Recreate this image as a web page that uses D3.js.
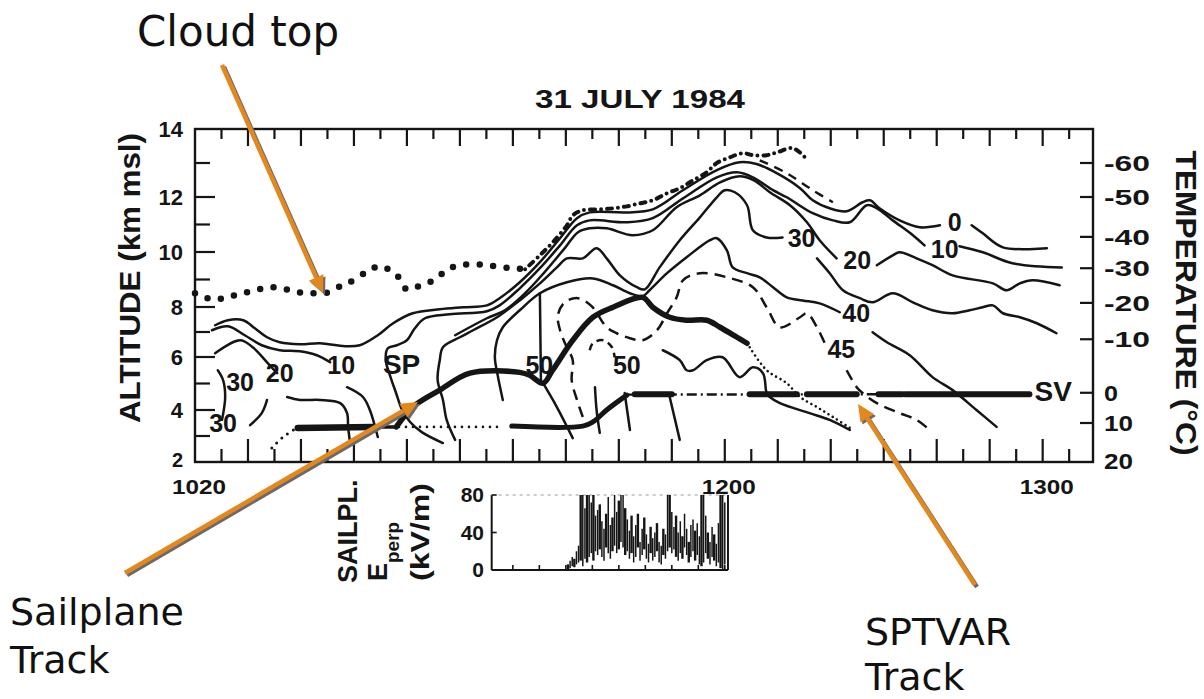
<!DOCTYPE html>
<html lang="en">
<head>
<meta charset="utf-8">
<title>31 July 1984 - reflectivity cross-section</title>
<script src="https://d3js.org/d3.v7.min.js"></script>
<style>
  body { margin: 0; background: #fff; }
  svg { display: block; }
  .fig { font-family: "Liberation Sans", Arial, sans-serif; font-weight: bold; fill: #151515; }
  .note { font-family: "DejaVu Sans", sans-serif; fill: #111; }
</style>
</head>
<body>
<svg id="chart" width="1204" height="699"></svg>
<script>
// ---- data: time in minutes after 10:00, altitude in km msl ----
var xTickMinutes = [20, 120, 180];
var xTickLabels = ["1020", "1200", "1300"];
var altTicks = [2, 4, 6, 8, 10, 12, 14];
var tempLabels = [-60, -50, -40, -30, -20, -10, 0, 10, 20];
var tempAltKm = [13.0, 12.0, 10.55, 9.41, 8.15, 6.71, 4.65, 3.5, 2.04];

var cloudTopLow = [[20,8.50],[22.3,8.32],[24.2,8.28],[26.6,8.39],[29.1,8.50],[31.9,8.64],[34.5,8.72],[37.2,8.64],[39.8,8.53],[42.3,8.50],[44.5,8.50],[47,8.72],[49.2,8.90],[52.6,9.30],[54.9,9.48],[58.1,9.15],[60,8.64],[62.6,8.79],[65.3,9.0],[67.7,9.37],[70,9.52],[72.8,9.55],[75.3,9.52],[77.9,9.44],[80.4,9.41],[82.3,9.37]];
var cloudTopAnvil = [[82.3,9.37],[85.1,9.88],[87.9,10.43],[90.2,10.97],[91.3,11.33],[93.2,11.52],[96.4,11.55],[98.9,11.59],[101.5,11.66],[104,11.77],[106.4,11.88],[109.1,12.11],[111.5,12.26],[114,12.49],[116.6,12.73],[118.5,13.0],[121,13.17],[123.4,13.29],[125.3,13.23],[127.9,13.23],[130,13.32],[132.8,13.44],[135.3,13.14]];
var anvilEdge = [[126.6,13.08],[131.7,12.70],[136.6,12.20],[140.4,11.81]];

var dbz0 = [[23.8,7.27],[26.2,7.47],[29.1,7.47],[31.3,7.15],[33.6,6.79],[36.0,6.59],[39.8,6.51],[43.6,6.55],[48.3,6.43],[51.1,6.47],[54.5,6.87],[57.4,7.35],[61.1,7.75],[66.2,7.91],[70.6,7.99],[75.1,8.06],[77.5,8.32],[81.3,8.90],[85.1,9.63],[88.9,10.50],[92.1,11.23],[94.5,11.44],[101.5,11.44],[106.4,11.55],[112.1,12.20],[118.5,12.79],[122.8,13.02],[126.0,12.97],[129.8,12.70],[134.2,12.26],[136.6,11.88],[139.8,11.59],[143.0,11.48],[146.0,11.81],[147.4,11.88],[149.2,11.59],[153.0,11.15],[156.8,10.90],[160.6,10.97],null,[166.6,10.97],[168.7,10.68],[172.5,10.17],[180.8,10.14]];
var dbz10a = [[23.2,7.07],[26.2,7.23],[29.4,6.87],[32.6,6.47],[36,6.27],[39.8,6.23],[43,6.07],[45.5,5.80],null,[48.7,4.86],[51.7,4.49],[53,4.0],[54,3.35],[54.5,2.96]];
var dbz10b = [[66.8,2.73],[62.8,3.15],[60.6,3.54],[59.1,4.0],[57.9,4.67],[56.8,5.31],[56,5.88],[56.4,6.35],[58.1,6.47],[60,6.67],[61.5,7.15],[63.4,7.55],[68.1,7.71],[75.1,7.83],[77.5,8.06],[81.3,8.68],[85.1,9.41],[88.9,10.24],[92.1,10.97],[94.5,11.15],[101.5,11.08],[106.4,11.23],[112.1,11.95],[118.5,12.58],[122.3,12.73],[125.3,12.58],[129.1,12.20],[131.7,11.99],[136.6,11.41],[140.4,11.15],[143.6,11.08],[146.8,11.70],[148.7,11.59],[151.7,11.15],[155.5,10.61],[157.7,10.24],null,[164.3,10.21],[168.7,9.99],[174.3,9.59],[183.6,9.44]];
var dbz20a = [[23.8,6.15],[28.5,6.67],[30.9,6.39],[33.6,5.80],[35.5,5.39],null,[37.4,4.49],[39.8,4.38],[43.6,4.38],[47.4,4.26],[48.7,3.88],[48.9,3.35],[49.2,2.85]];
var dbz20b = [[69.1,6.87],[75.1,7.55],[78.5,7.87],[82.3,8.50],[86,9.27],[89.8,10.14],[92.3,10.72],[94.5,10.86],[97.7,10.86],[102.6,10.61],[106.4,10.79],[110.9,11.63],[115.3,12.05],[119.1,12.43],[122.8,12.61],[125.5,12.49],[128.5,12.14],[132.3,11.70],[135.5,11.08],[137.9,10.43],[141.1,9.77],null,[148.7,9.52],[151.7,9.88],[153,9.99],[156.2,9.77],[159.2,9.52],[163,9.15],[170.6,8.86],[173.2,8.61],[175.7,8.86],[178.1,8.97],[183.2,8.79]];
var dbz30a = [[24.3,5.50],[25.3,5.13],[25.7,4.49],[25.1,3.62]];
var dbz30b = [[33.6,4.38],[32.6,3.88],[30.4,3.42]];
var dbz30c = [[69.1,2.85],[67.5,3.62],[66.8,4.38],[65.8,5.13],[66.2,5.88],[66.8,6.39],[70,6.79],[72.5,7.07],[77,7.59],[81.3,8.24],[85.1,8.86],[88.3,9.44],[90.2,9.77],[93.2,9.77],[95.8,10.14],[97.7,9.77],[100.2,9.15],[103.4,8.72],[104.9,8.64],[107.7,9.44],[111.5,10.43],[115.3,11.26],[118.5,11.99],[120,12.20],[121.9,12.14],[124.2,11.70],[125.3,10.79],[127.9,10.53],[130.9,10.53],null,[137.4,9.77],[139.8,9.23],[142.3,8.61],[145.5,8.32],[147.9,8.17],[151.7,8.50],[155.5,8.17],[159.2,7.87],[163,7.75],[166.2,7.87],[168.7,7.99],[170.6,8.06],[172.5,7.75],[175.7,7.59],[178.9,7.35],[182.6,6.95]];
var dbz40 = [[78.1,4.38],[77.2,5.24],[76.6,5.99],[77,6.67],[78.1,7.19],[81.3,7.87],[85.1,8.50],[90.2,8.90],[95.1,9.04],[98.9,8.79],[102.1,8.50],[104.5,8.39],[105.8,8.61],[109.1,9.23],[112.8,9.81],[117.2,10.43],[118.5,10.50],[120.4,10.06],[121.5,9.44],[124.2,9.23],[126.6,9.08],[129.1,8.72],[131.7,8.35],[134.7,8.24],[137.9,8.13],[141.7,7.79],null,[147.9,6.99],[150.6,6.59],[154.9,6.07],[159.2,5.24],[163,4.75],[167.5,4.0],[171.3,3.35]];
var innerLines = [
  [[85.1,8.50],[85.3,5.0]],
  [[85.7,5.01],[88.3,4.11],[91.3,2.92]],
  [[95.5,4.86],[95.8,4.0],[96.4,3.12]],
  [[101.1,4.64],[102.1,3.23]],
  [[109.6,4.49],[111.5,2.85]],
  [[108.3,6.27],[111.5,5.88],[112.8,5.50],[114,5.50],[116.6,5.88],[119.6,5.99],[122.8,5.24],[125.3,5.61],[127.2,5.39],[127.9,4.64],[128.5,4.49],[130.4,4.26],[136,3.88],[139.8,3.62],[143.6,3.23]]
];
var dbz45 = [[93.2,3.73],[92.1,4.38],[91.1,5.13],[91.3,5.88],[90,6.47],[88.9,7.07],[88.5,7.67],[89.8,8.17],[92.3,8.32],[94.9,8.02],[97.7,7.19],[99.6,6.95],[102.1,6.75],[104.5,6.67],[107.2,7.07],[109.1,7.75],[110.9,8.35],[112.1,8.97],[115.3,9.23],[120.4,9.08],[125.3,8.72],[127.9,7.99],[130.4,7.19],[134.2,7.59],[135.5,7.75],[137.4,7.19],[139.2,6.39],null,[143,5.50],[144.9,4.86],[146,4.64],[148.7,4.26],[153,3.88],[156.2,3.62],[158.7,3.23]];
var dbz45small = [[94.5,6.27],[95.1,6.55],[97,6.67],[98.7,6.39],[99.2,5.99]];

var contourLabels = [
  {text: "0", t: 163.4, km: 10.75}, {text: "10", t: 161.5, km: 9.8},
  {text: "20", t: 145.0, km: 9.4}, {text: "30", t: 134.5, km: 10.2},
  {text: "40", t: 144.8, km: 7.4}, {text: "45", t: 142.0, km: 5.95},
  {text: "50", t: 85.0, km: 5.35}, {text: "50", t: 101.5, km: 5.35},
  {text: "10", t: 47.6, km: 5.35}, {text: "20", t: 36.0, km: 5.05},
  {text: "30", t: 28.5, km: 4.7}, {text: "30", t: 25.3, km: 3.15},
  {text: "SP", t: 59.0, km: 5.35}, {text: "SV", t: 182.0, km: 4.35}
];

// sailplane (SP) and SPTVAR (SV) tracks
var spClimbDots = [[34.5,2.54],[36.6,2.96],[38.9,3.27]];
var spTrack = [[39.4,3.31],[53.6,3.35]];
var spTrackThin = [[53.6,3.35],[58.0,3.35]];
var spTrackUp = [[58.0,3.35],[61.1,4.11],[66.2,4.75],[71.9,5.39],[81.3,5.42],[83.2,5.31],[85.7,5.01],[87.5,5.50],[91.3,6.67],[95.1,7.59],[98.9,7.99],[104.5,8.35],[106.4,7.99],[109.6,7.59],[112.8,7.47],[116.6,7.47],[119.1,7.19],[122.3,6.79],[124.2,6.55]];
var spDescentDots = [[124.7,6.39],[127.9,5.50],[131.7,5.01],[134.2,4.49],[137.4,4.11],[140.4,3.73],[143.6,3.31]];
var svLowDots = [[58.5,3.35],[78.1,3.35]];
var svLow = [[79.8,3.38],[93.2,3.38],[95.1,3.54],[97.7,4.0],[101.5,4.56]];
var svLevel = [[101.5,4.58],[177.5,4.60]];
var svThick = [[103,110],[124.7,133.6],[135.5,144.9],[149,153.5],[154,177.5]];

// sailplane E-perp (kV/m)
var eTime = [90.4,90.8,91.2,91.6,92.0,92.4,92.8,93.2,93.6,94.0,94.4,94.8,95.2,95.6,96.0,96.4,96.8,97.2,97.6,98.0,98.4,98.8,99.2,99.6,100.0,100.4,100.8,101.2,101.6,102.0,102.4,102.8,103.2,103.6,104.0,104.4,104.8,105.2,105.6,106.0,106.4,106.8,107.2,107.6,108.0,108.4,108.8,109.2,109.6,110.0,110.4,110.8,111.2,111.6,112.0,112.4,112.8,113.2,113.6,114.0,114.4,114.8,115.2,115.6,116.0,116.4,116.8,117.2,117.6,118.0,118.4,118.8,119.2,119.6,120.0];
var eHigh = [6,10,14,12,20,26,80,80,66,80,80,72,80,58,64,70,52,44,60,78,48,56,80,62,74,80,80,66,54,42,58,36,48,60,30,44,56,38,28,46,34,40,50,30,26,44,38,80,80,62,46,58,40,52,36,60,44,30,48,54,42,50,36,80,80,58,40,30,46,38,28,50,80,80,72];
var eLow = [0,2,4,3,6,8,10,4,12,8,14,18,10,20,16,22,14,10,24,18,12,20,26,18,22,30,24,16,20,12,18,8,14,24,10,16,22,12,8,18,10,14,20,8,6,16,12,20,24,18,22,14,10,18,12,24,16,8,14,20,10,16,6,4,8,18,12,6,14,10,4,8,2,0,6];
var eTicks = [0, 40, 80];

// ---- drawing ----
var svg = d3.select("#chart");
var ink = "#151515";

var x = d3.scaleLinear().domain([20, 189.5]).range([195, 1093]);
var y = d3.scaleLinear().domain([2, 4, 6, 8, 10, 12, 14]).range([462, 410, 357, 307, 252, 197, 129]);

var line = d3.line()
  .defined(function(d) { return d; })
  .x(function(d) { return x(d[0]); })
  .y(function(d) { return y(d[1]); })
  .curve(d3.curveCatmullRom.alpha(0.5));

function draw(data, w, dash, cap) {
  return svg.append("path").datum(data)
    .attr("d", line)
    .attr("fill", "none")
    .attr("stroke", ink)
    .attr("stroke-width", w)
    .attr("stroke-linecap", cap || "round")
    .attr("stroke-linejoin", "round")
    .attr("stroke-dasharray", dash || null);
}

// frame
svg.append("rect")
  .attr("x", x(20)).attr("y", y(14))
  .attr("width", x(189.5) - x(20)).attr("height", y(2) - y(14))
  .attr("fill", "none").attr("stroke", ink).attr("stroke-width", 2.4);

// time ticks top and bottom
d3.range(25, 189, 5).forEach(function(t) {
  var tall = t % 10 === 0;
  svg.append("line").attr("x1", x(t)).attr("x2", x(t))
    .attr("y1", y(2)).attr("y2", y(2) - (tall ? 23 : 13))
    .attr("stroke", ink).attr("stroke-width", 2.2);
  svg.append("line").attr("x1", x(t)).attr("x2", x(t))
    .attr("y1", y(14)).attr("y2", y(14) + (tall ? 17 : 10))
    .attr("stroke", ink).attr("stroke-width", 2.2);
});
xTickMinutes.forEach(function(t, i) {
  svg.append("text").attr("class", "fig")
    .attr("x", x(t) + 4).attr("y", 494)
    .attr("text-anchor", "middle").attr("font-size", 21)
    .attr("textLength", 54).attr("lengthAdjust", "spacingAndGlyphs")
    .text(xTickLabels[i]);
});

// altitude ticks
d3.range(3, 14, 1).forEach(function(a) {
  var major = a % 2 === 0;
  svg.append("line").attr("x1", x(20)).attr("x2", x(20) + (major ? 20 : 15))
    .attr("y1", y(a)).attr("y2", y(a))
    .attr("stroke", ink).attr("stroke-width", 2.2);
});
altTicks.forEach(function(a) {
  svg.append("text").attr("class", "fig")
    .attr("x", 183).attr("y", y(a) + (a === 2 ? 5 : 8))
    .attr("text-anchor", "end").attr("font-size", a === 2 ? 20 : 22)
    .text(a);
});

// temperature ticks (right)
tempLabels.forEach(function(c, i) {
  var yy = y(tempAltKm[i]);
  if (c !== 20) {
    svg.append("line").attr("x1", x(189.5)).attr("x2", x(189.5) - 13)
      .attr("y1", yy).attr("y2", yy)
      .attr("stroke", ink).attr("stroke-width", 2.2);
  }
  svg.append("text").attr("class", "fig")
    .attr("x", 1104).attr("y", yy + 8)
    .attr("font-size", 22)
    .attr("textLength", c < 0 ? 46 : (c === 0 ? 14 : 29)).attr("lengthAdjust", "spacingAndGlyphs")
    .text(c < 0 ? "-" + Math.abs(c) : c);
});

// axis titles
svg.append("text").attr("class", "fig")
  .attr("transform", "translate(140,278) rotate(-90)")
  .attr("text-anchor", "middle").attr("font-size", 29)
  .attr("textLength", 290).attr("lengthAdjust", "spacingAndGlyphs")
  .text("ALTITUDE (km msl)");
svg.append("text").attr("class", "fig")
  .attr("transform", "translate(1176,303) rotate(90)")
  .attr("text-anchor", "middle").attr("font-size", 29)
  .attr("textLength", 305).attr("lengthAdjust", "spacingAndGlyphs")
  .text("TEMPERATURE (°C)");
svg.append("text").attr("class", "fig")
  .attr("x", 640).attr("y", 108)
  .attr("text-anchor", "middle").attr("font-size", 25)
  .attr("textLength", 210).attr("lengthAdjust", "spacingAndGlyphs")
  .text("31 JULY 1984");

// cloud top
draw(cloudTopLow, 6.5, "0 13.5");
draw(cloudTopAnvil, 4, "0 6 5 6");
draw(anvilEdge, 2.4, "9 7", "butt");

// contours
[dbz0, dbz10a, dbz10b, dbz20a, dbz20b, dbz30a, dbz30b, dbz30c, dbz40].forEach(function(c) { draw(c, 2.5); });
innerLines.forEach(function(c) { draw(c, 2.5); });
draw(dbz45, 2.5, "11 7", "butt");
draw(dbz45small, 2.5, "7 5", "butt");

// tracks
draw(spClimbDots, 3, "0 7");
draw(spTrack, 6.5);
draw(spTrackThin, 3.5);
draw(spTrackUp, 5.5);
draw(spDescentDots, 2.6, "0 5");
draw(svLowDots, 2.6, "0 7");
draw(svLow, 5);
draw(svLevel, 2.4, "10 4 2 4", "butt");
svThick.forEach(function(s) {
  draw([[s[0], 4.59], [s[1], 4.59]], 6);
});

// contour labels
contourLabels.forEach(function(l) {
  svg.append("text").attr("class", "fig")
    .attr("x", x(l.t)).attr("y", y(l.km))
    .attr("text-anchor", "middle")
    .attr("font-size", l.text.length === 2 && isNaN(+l.text) ? 28 : 25)
    .text(l.text);
});

// E-perp inset
var ey = d3.scaleLinear().domain([0, 80]).range([570, 495]);
var eg = svg.append("g");
eg.append("line").attr("x1", x(76)).attr("x2", x(120.6)).attr("y1", ey(0)).attr("y2", ey(0))
  .attr("stroke", ink).attr("stroke-width", 2);
eg.append("line").attr("x1", x(76)).attr("x2", x(76)).attr("y1", ey(0)).attr("y2", ey(80))
  .attr("stroke", ink).attr("stroke-width", 2);
eg.append("line").attr("x1", x(120.6)).attr("x2", x(120.6)).attr("y1", ey(0)).attr("y2", ey(80))
  .attr("stroke", ink).attr("stroke-width", 2);
eg.append("line").attr("x1", x(76)).attr("x2", x(120.6)).attr("y1", ey(80)).attr("y2", ey(80))
  .attr("stroke", "#bbb").attr("stroke-width", 1.5).attr("stroke-dasharray", "3 4");
d3.range(80, 121, 5).forEach(function(t) {
  eg.append("line").attr("x1", x(t)).attr("x2", x(t)).attr("y1", ey(0)).attr("y2", ey(0) - 5)
    .attr("stroke", ink).attr("stroke-width", 1.6);
});
eTicks.forEach(function(v) {
  eg.append("line").attr("x1", x(76)).attr("x2", x(76) + 5).attr("y1", ey(v)).attr("y2", ey(v))
    .attr("stroke", ink).attr("stroke-width", 1.6);
  eg.append("text").attr("class", "fig")
    .attr("x", 484).attr("y", ey(v) + 7)
    .attr("text-anchor", "end").attr("font-size", 21)
    .text(v);
});
eTime.forEach(function(t, i) {
  eg.append("line").attr("x1", x(t)).attr("x2", x(t))
    .attr("y1", ey(eLow[i])).attr("y2", ey(eHigh[i]))
    .attr("stroke", ink).attr("stroke-width", i % 3 === 0 ? 2.4 : 1.5);
});
svg.append("text").attr("class", "fig")
  .attr("transform", "translate(357,583) rotate(-90)")
  .attr("font-size", 27).text("SAILPL.");
var eLab = svg.append("text").attr("class", "fig")
  .attr("transform", "translate(387,581) rotate(-90)")
  .attr("font-size", 27);
eLab.append("tspan").text("E");
eLab.append("tspan").attr("dy", 12).attr("font-size", 19).text("perp");
svg.append("text").attr("class", "fig")
  .attr("transform", "translate(429,581) rotate(-90)")
  .attr("font-size", 26).attr("textLength", 98).attr("lengthAdjust", "spacingAndGlyphs")
  .text("(kV/m)");

// ---- annotations ----
var orange = "#e3871f";
function arrow(x1, y1, x2, y2) {
  var a = Math.atan2(y2 - y1, x2 - x1), L = 17, W = 8;
  var bx = x2 - L * Math.cos(a), by = y2 - L * Math.sin(a);
  var px = -Math.sin(a) * W, py = Math.cos(a) * W;
  var head = [[x2, y2], [bx + px, by + py], [bx - px, by - py]];
  [["#6a6a6a", 2], [orange, 0]].forEach(function(s) {
    var o = s[1];
    svg.append("line").attr("x1", x1 + o).attr("y1", y1 + o).attr("x2", bx + o).attr("y2", by + o)
      .attr("stroke", s[0]).attr("stroke-width", 4.5);
    svg.append("path")
      .attr("d", "M" + head.map(function(p) { return (p[0] + o) + "," + (p[1] + o); }).join("L") + "Z")
      .attr("fill", s[0]);
  });
}
arrow(222, 65, 323, 293);
arrow(125, 573, 418, 402);
arrow(975, 585, 858, 404);

svg.append("text").attr("class", "note").attr("x", 137).attr("y", 46).attr("font-size", 42).text("Cloud top");
svg.append("text").attr("class", "note").attr("x", 10).attr("y", 625).attr("font-size", 38).text("Sailplane");
svg.append("text").attr("class", "note").attr("x", 10).attr("y", 673).attr("font-size", 38).text("Track");
svg.append("text").attr("class", "note").attr("x", 865).attr("y", 645).attr("font-size", 38).text("SPTVAR");
svg.append("text").attr("class", "note").attr("x", 865).attr("y", 690).attr("font-size", 38).text("Track");
</script>
</body>
</html>
